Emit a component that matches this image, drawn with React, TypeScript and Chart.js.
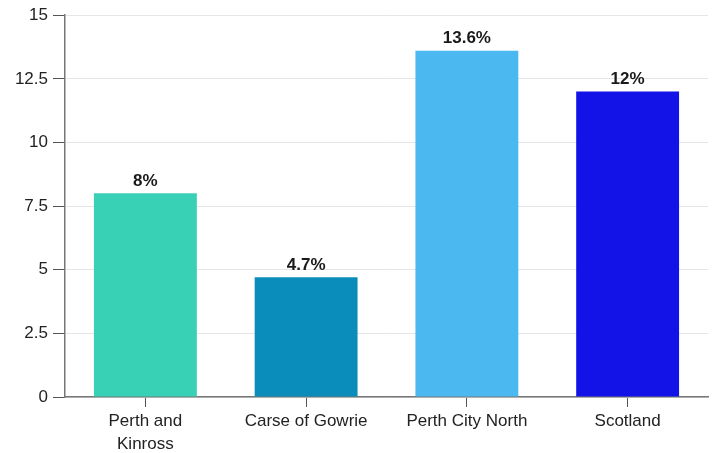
import React, { useEffect, useRef } from "react";
import { Chart, registerables } from "chart.js";

Chart.register(...registerables);

const categories: (string | string[])[] = [["Perth and", "Kinross"], "Carse of Gowrie", "Perth City North", "Scotland"];
const values: number[] = [8, 4.7, 13.6, 12];
const valueLabels: string[] = ["8%", "4.7%", "13.6%", "12%"];
const barColors: string[] = ["#38d1b6", "#0a8dba", "#4bb8f0", "#1313e8"];
const yTicks: number[] = [0, 2.5, 5, 7.5, 10, 12.5, 15];

const FONT = "'Liberation Sans', Arial, Helvetica, sans-serif";

const valueLabelPlugin = {
  id: "valueLabels",
  afterDatasetsDraw(chart: any) {
    const ctx = chart.ctx;
    const meta = chart.getDatasetMeta(0);
    ctx.save();
    ctx.font = `bold 17px ${FONT}`;
    ctx.fillStyle = "#1a1a1a";
    ctx.textAlign = "center";
    ctx.textBaseline = "bottom";
    meta.data.forEach((bar: any, i: number) => {
      ctx.fillText(valueLabels[i], bar.x, bar.y - 4);
    });
    ctx.restore();
  },
};

export default function App() {
  const ref = useRef<HTMLCanvasElement>(null);
  useEffect(() => {
    if (!ref.current) return;
    const chart = new Chart(ref.current, {
      type: "bar",
      data: {
        labels: categories,
        datasets: [
          {
            data: values,
            backgroundColor: barColors,
            borderWidth: 0,
            categoryPercentage: 0.8,
            barPercentage: 0.8,
          },
        ],
      },
      options: {
        animation: false,
        responsive: true,
        maintainAspectRatio: false,
        devicePixelRatio: 1,
        layout: { padding: { top: 15, right: 9, left: 0, bottom: 0 } },
        plugins: {
          legend: { display: false },
          tooltip: { enabled: false },
        },
        scales: {
          x: {
            grid: {
              offset: false,
              drawOnChartArea: false,
              drawTicks: true,
              tickLength: 10,
              tickColor: "#555",
            },
            border: { color: "#777", width: 1.5 },
            ticks: {
              color: "#222",
              font: { family: FONT, size: 17, lineHeight: 1.4 },
              padding: 2,
              maxRotation: 0,
              autoSkip: false,
            },
            afterFit(scale: any) {
              scale.height = 56;
            },
          },
          y: {
            min: 0,
            max: 15,
            afterBuildTicks(scale: any) {
              scale.ticks = yTicks.map((v) => ({ value: v }));
            },
            grid: {
              color: "#e6e6e6",
              tickColor: "#555",
              tickLength: 12,
              lineWidth: 1,
            },
            border: { color: "#777", width: 1.5 },
            ticks: {
              color: "#222",
              font: { family: FONT, size: 17 },
              padding: 5,
              callback: (v: any) => String(v),
            },
            afterFit(scale: any) {
              scale.width = 65;
            },
          },
        },
      },
      plugins: [valueLabelPlugin],
    });
    return () => chart.destroy();
  }, []);
  return (
    <div style={{ position: "fixed", left: 0, top: 0, width: 717, height: 453, background: "#fff" }}>
      <canvas ref={ref} />
    </div>
  );
}
